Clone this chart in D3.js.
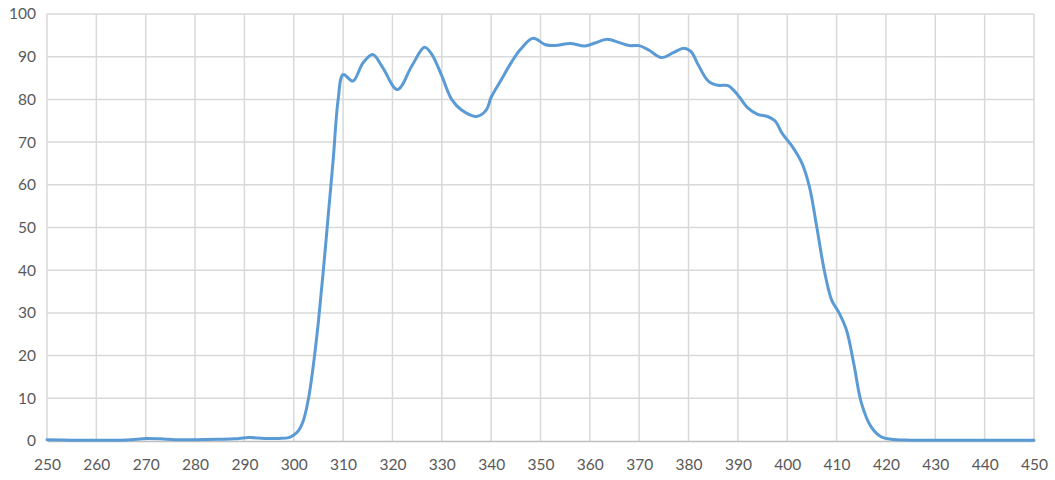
<!DOCTYPE html>
<html>
<head>
<meta charset="utf-8">
<script src="https://cdn.jsdelivr.net/npm/d3@7"></script>
<style>
  body { margin: 0; background: #fff; }
  text { font-family: Lato, "Open Sans", sans-serif; }
</style>
</head>
<body>
<svg id="chart"></svg>
<script>
/// data ///
const wavelength = [250, 255, 260, 265, 268, 270, 273, 276, 280, 285, 288, 291, 294, 297, 299,
  300, 301, 302, 303, 304, 305, 306, 307, 308, 309, 310, 312, 314, 316, 318, 321, 324, 326.5,
  328, 330, 332, 334, 337, 339, 340, 342, 344, 346, 348.5, 351, 353, 356, 359, 361, 363.5, 366,
  368, 370, 372, 374.5, 377, 379, 380.5, 382, 384, 386, 388, 390, 392, 394, 396, 397.5, 399,
  401, 403, 404.5, 406, 407.5, 409, 410.5, 412, 413.5, 415, 417, 419, 421, 425, 430, 440, 450];
const transmission = [0.3, 0.2, 0.2, 0.2, 0.4, 0.6, 0.5, 0.3, 0.3, 0.4, 0.5, 0.8, 0.6, 0.6, 0.8,
  1.4, 2.5, 5, 10, 18, 28, 40, 53, 66, 80, 85.8, 84.3, 88.5, 90.5, 87.5, 82.3, 88, 92.2,
  90.5, 85.5, 80, 77.5, 76, 77.5, 80.5, 84.5, 88.5, 91.8, 94.3, 92.8, 92.6, 93.1, 92.5, 93.2, 94.1, 93.3,
  92.6, 92.6, 91.5, 89.8, 91, 92, 91.2, 88, 84.3, 83.3, 83.2, 81, 78, 76.5, 76, 75, 72,
  69, 65, 59.5, 50, 40, 33, 30, 26, 18, 9, 3.3, 1, 0.4, 0.2, 0.2, 0.2, 0.2];
const xTicks = d3.range(250, 451, 10);
const yTicks = d3.range(0, 101, 10);

/// dimensions ///
const width = 1055;
const height = 480;
const margin = {top: 14, right: 21, bottom: 39, left: 47};

const data = wavelength.map((w, i) => ({x: w, y: transmission[i]}));

/// scales ///
const x = d3.scaleLinear()
  .domain([250, 450])
  .range([margin.left, width - margin.right]);
const y = d3.scaleLinear()
  .domain([0, 100])
  .range([height - margin.bottom, margin.top]);

const svg = d3.select("#chart")
  .attr("width", width)
  .attr("height", height);

// grid lines
svg.append("g")
  .selectAll("line")
  .data(yTicks.filter(d => d > 0))
  .join("line")
    .attr("x1", margin.left)
    .attr("x2", width - margin.right)
    .attr("y1", d => y(d))
    .attr("y2", d => y(d))
    .attr("stroke", "#d9d9d9")
    .attr("stroke-width", 1.5);
svg.append("g")
  .selectAll("line")
  .data(xTicks)
  .join("line")
    .attr("x1", d => x(d))
    .attr("x2", d => x(d))
    .attr("y1", margin.top)
    .attr("y2", height - margin.bottom)
    .attr("stroke", "#d9d9d9")
    .attr("stroke-width", 1.5);

// x axis
svg.append("g")
  .attr("transform", `translate(0,${height - margin.bottom})`)
  .call(d3.axisBottom(x).tickValues(xTicks).tickSize(0).tickPadding(18))
  .call(g => g.select(".domain").attr("stroke", "#bfbfbf").attr("stroke-width", 1.5))
  .call(g => g.selectAll(".tick text")
    .attr("font-family", "Lato, sans-serif")
    .attr("font-size", 15.5)
    .attr("fill", "#595959"));

// y axis
svg.append("g")
  .attr("transform", `translate(${margin.left},0)`)
  .call(d3.axisLeft(y).tickValues(yTicks).tickSize(0).tickPadding(11))
  .call(g => g.select(".domain").remove())
  .call(g => g.selectAll(".tick text")
    .attr("font-family", "Lato, sans-serif")
    .attr("font-size", 15.5)
    .attr("fill", "#595959"));

// the curve
const line = d3.line()
  .x(d => x(d.x))
  .y(d => y(d.y))
  .curve(d3.curveCatmullRom.alpha(0.5));

svg.append("path")
  .datum(data)
  .attr("fill", "none")
  .attr("stroke", "#5b9bd5")
  .attr("stroke-width", 3)
  .attr("stroke-linejoin", "round")
  .attr("stroke-linecap", "round")
  .attr("d", line);
</script>
</body>
</html>
